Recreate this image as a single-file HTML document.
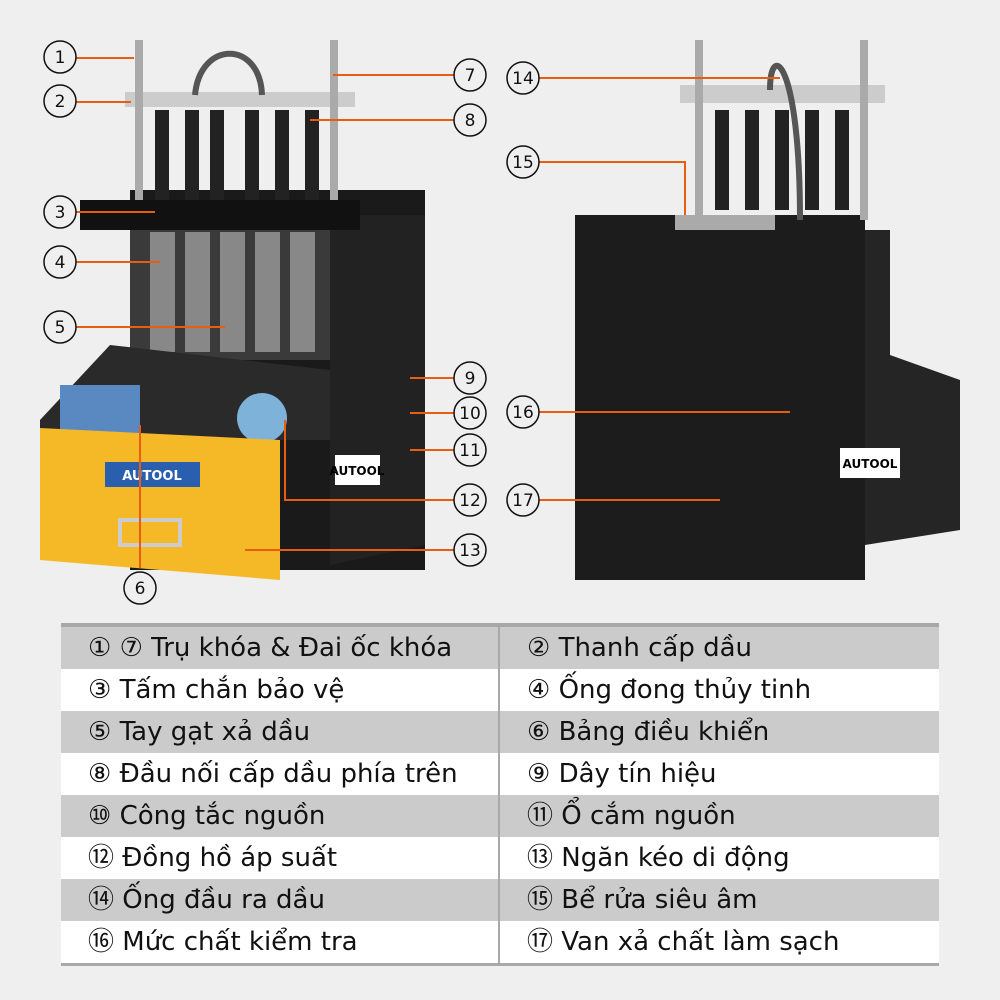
<!DOCTYPE html>
<html><head><meta charset="utf-8"><style>
body{margin:0;width:1000px;height:1000px;background:#efefef;position:relative;overflow:hidden;font-family:"Liberation Sans","DejaVu Sans",sans-serif}
.t{position:absolute;left:61px;top:623px;width:878px;border-top:4px solid #a8a8a8;border-bottom:3px solid #a8a8a8}
.r{height:42px;display:flex;background:#fff}
.r:nth-child(odd){background:#cbcbcb}
.c{width:50%;box-sizing:border-box;padding-left:27px;font-size:26px;line-height:42px;color:#111;white-space:nowrap;font-family:"DejaVu Sans",sans-serif}
.c:first-child{border-right:2px solid #a8a8a8}
</style></head><body>
<svg width="1000" height="620" style="position:absolute;left:0;top:0" font-family="DejaVu Sans" font-size="22">
<rect x="130" y="190" width="295" height="380" fill="#1a1a1a"/>
<polygon points="330,215 425,215 425,545 330,565" fill="#222"/>
<rect x="80" y="200" width="280" height="30" fill="#111"/>
<rect x="130" y="230" width="200" height="130" fill="#3a3a3a"/>
<g fill="#888"><rect x="150" y="232" width="25" height="120"/><rect x="185" y="232" width="25" height="120"/><rect x="220" y="232" width="25" height="120"/><rect x="255" y="232" width="25" height="120"/><rect x="290" y="232" width="25" height="120"/></g>
<polygon points="40,420 110,345 330,370 330,440 280,440 40,430" fill="#2a2a2a"/>
<rect x="60" y="385" width="80" height="60" fill="#5a89c2"/>
<circle cx="262" cy="418" r="25" fill="#7fb2d8"/>
<polygon points="40,428 280,440 280,580 40,560" fill="#f5b827"/>
<rect x="105" y="462" width="95" height="25" fill="#2a5fb0"/>
<text x="152" y="480" fill="#fff" font-size="13" text-anchor="middle" font-weight="bold">AUTOOL</text>
<rect x="120" y="520" width="60" height="25" fill="none" stroke="#ccc" stroke-width="4"/>
<rect x="125" y="92" width="230" height="15" fill="#ccc"/>
<rect x="135" y="40" width="8" height="160" fill="#aaa"/><rect x="330" y="40" width="8" height="160" fill="#aaa"/>
<g fill="#222"><rect x="155" y="110" width="14" height="90"/><rect x="185" y="110" width="14" height="90"/><rect x="210" y="110" width="14" height="90"/><rect x="245" y="110" width="14" height="90"/><rect x="275" y="110" width="14" height="90"/><rect x="305" y="110" width="14" height="90"/></g>
<path d="M195 95 C200 40 260 40 262 95" stroke="#555" stroke-width="6" fill="none"/>
<rect x="335" y="455" width="45" height="30" fill="#fff"/>
<text x="357" y="475" font-size="12" text-anchor="middle" font-weight="bold">AUTOOL</text>
<rect x="575" y="215" width="290" height="365" fill="#1c1c1c"/>
<polygon points="865,230 890,230 890,355 960,380 960,530 865,545" fill="#252525"/>
<rect x="675" y="215" width="100" height="15" fill="#aaa"/>
<rect x="680" y="85" width="205" height="18" fill="#ccc"/>
<rect x="695" y="40" width="8" height="180" fill="#aaa"/><rect x="860" y="40" width="8" height="180" fill="#aaa"/>
<g fill="#222"><rect x="715" y="110" width="14" height="100"/><rect x="745" y="110" width="14" height="100"/><rect x="775" y="110" width="14" height="100"/><rect x="805" y="110" width="14" height="100"/><rect x="835" y="110" width="14" height="100"/></g>
<path d="M770 90 C770 40 800 60 800 220" stroke="#555" stroke-width="6" fill="none"/>
<rect x="840" y="448" width="60" height="30" fill="#fff"/>
<text x="870" y="468" font-size="12" text-anchor="middle" font-weight="bold">AUTOOL</text>
<g stroke="#e85d10" stroke-width="2" fill="none">
<path d="M76 58H134"/><path d="M76 102H131"/><path d="M76 212H155"/><path d="M76 262H160"/><path d="M76 327H225"/>
<path d="M454 75H333"/><path d="M454 120H310"/><path d="M454 378H410"/><path d="M454 413H410"/><path d="M454 450H410"/>
<path d="M140 568V425"/><path d="M454 500H285V420"/><path d="M454 550H245"/>
<path d="M539 78H780"/><path d="M539 162H685V215"/><path d="M539 412H790"/><path d="M539 500H720"/>
</g>
<g fill="#efefef" stroke="#111" stroke-width="1.5">
<circle cx="60" cy="57" r="16"/><circle cx="60" cy="101" r="16"/><circle cx="60" cy="212" r="16"/><circle cx="60" cy="262" r="16"/><circle cx="60" cy="327" r="16"/>
<circle cx="470" cy="75" r="16"/><circle cx="470" cy="120" r="16"/><circle cx="470" cy="378" r="16"/><circle cx="470" cy="413" r="16"/><circle cx="470" cy="450" r="16"/><circle cx="470" cy="500" r="16"/><circle cx="470" cy="550" r="16"/><circle cx="140" cy="588" r="16"/>
<circle cx="523" cy="78" r="16"/><circle cx="523" cy="162" r="16"/><circle cx="523" cy="412" r="16"/><circle cx="523" cy="500" r="16"/>
</g>
<g font-size="17" text-anchor="middle" fill="#111">
<text x="60" y="63">1</text><text x="60" y="107">2</text><text x="60" y="218">3</text><text x="60" y="268">4</text><text x="60" y="333">5</text>
<text x="470" y="81">7</text><text x="470" y="126">8</text><text x="470" y="384">9</text><text x="470" y="419">10</text><text x="470" y="456">11</text><text x="470" y="506">12</text><text x="470" y="556">13</text><text x="140" y="594">6</text>
<text x="523" y="84">14</text><text x="523" y="168">15</text><text x="523" y="418">16</text><text x="523" y="506">17</text>
</g>
</svg>
<div class="t">
<div class="r"><div class="c">① ⑦ Trụ khóa &amp; Đai ốc khóa</div><div class="c">② Thanh cấp dầu</div></div>
<div class="r"><div class="c">③ Tấm chắn bảo vệ</div><div class="c">④ Ống đong thủy tinh</div></div>
<div class="r"><div class="c">⑤ Tay gạt xả dầu</div><div class="c">⑥ Bảng điều khiển</div></div>
<div class="r"><div class="c">⑧ Đầu nối cấp dầu phía trên</div><div class="c">⑨ Dây tín hiệu</div></div>
<div class="r"><div class="c">⑩ Công tắc nguồn</div><div class="c">⑪ Ổ cắm nguồn</div></div>
<div class="r"><div class="c">⑫ Đồng hồ áp suất</div><div class="c">⑬ Ngăn kéo di động</div></div>
<div class="r"><div class="c">⑭ Ống đầu ra dầu</div><div class="c">⑮ Bể rửa siêu âm</div></div>
<div class="r"><div class="c">⑯ Mức chất kiểm tra</div><div class="c">⑰ Van xả chất làm sạch</div></div>
</div>
</body></html>
